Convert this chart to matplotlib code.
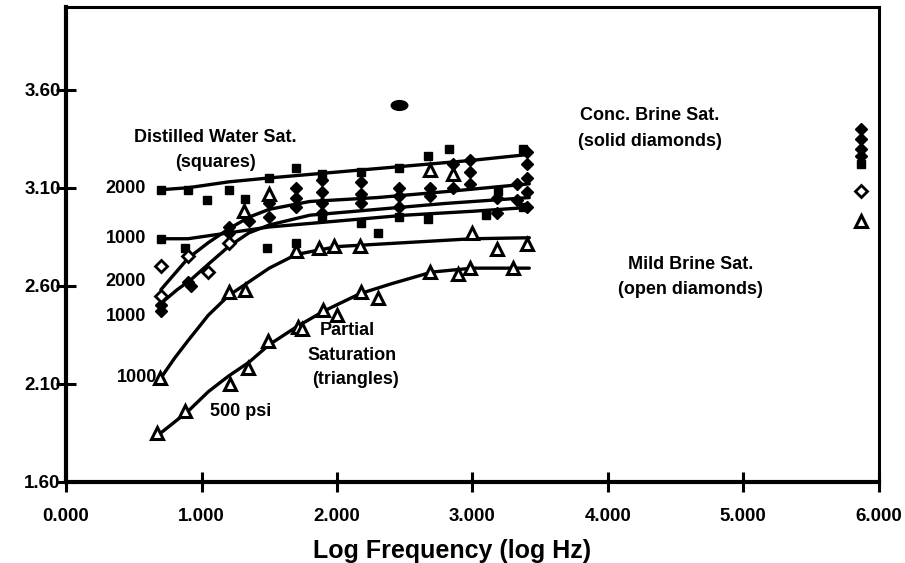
import matplotlib

matplotlib.use("Agg")
import matplotlib.pyplot as plt
from matplotlib.markers import MarkerStyle
from matplotlib.transforms import Affine2D

plt.rcParams["font.family"] = ["Liberation Sans", "DejaVu Sans"]

# fitted trend lines (log Hz, y value)
dist2000_x = [0.70, 0.90, 1.20, 1.50, 2.00, 2.50, 3.00, 3.42]
dist2000_y = [3.09, 3.10, 3.13, 3.15, 3.18, 3.21, 3.24, 3.27]
dist1000_x = [0.70, 0.90, 1.20, 1.50, 2.00, 2.50, 3.00, 3.42]
dist1000_y = [2.84, 2.84, 2.87, 2.90, 2.93, 2.96, 2.98, 3.00]
brine2000_x = [0.70, 0.80, 0.90, 1.05, 1.20, 1.35, 1.50, 1.80, 2.30, 2.80, 3.42]
brine2000_y = [2.58, 2.66, 2.74, 2.82, 2.89, 2.95, 2.99, 3.03, 3.05, 3.08, 3.12]
brine1000_x = [0.70, 0.82, 0.92, 1.05, 1.20, 1.35, 1.50, 1.80, 2.30, 2.80, 3.42]
brine1000_y = [2.51, 2.58, 2.63, 2.71, 2.80, 2.87, 2.91, 2.96, 2.99, 3.02, 3.05]
part1000_x = [0.70, 0.80, 0.90, 1.05, 1.20, 1.35, 1.50, 1.70, 2.00, 2.50, 3.00, 3.42]
part1000_y = [2.13, 2.23, 2.32, 2.45, 2.55, 2.62, 2.69, 2.76, 2.80, 2.82, 2.84, 2.845]
part500_x = [0.70, 0.90, 1.05, 1.20, 1.35, 1.50, 1.70, 1.90, 2.17, 2.40, 2.70, 3.00, 3.42]
part500_y = [1.85, 1.96, 2.06, 2.14, 2.21, 2.30, 2.39, 2.47, 2.56, 2.61, 2.67, 2.69, 2.69]

# measured points
sq_x = [0.70, 0.90, 1.04, 1.20, 1.32, 1.50, 1.70, 1.89, 2.18, 2.46, 2.67, 2.83, 3.19, 3.37,
        0.70, 0.88, 1.48, 1.70, 1.89, 2.18, 2.46, 2.67, 3.37, 2.30, 3.10, 5.87]
sq_y = [3.09, 3.09, 3.04, 3.09, 3.045, 3.15, 3.20, 3.17, 3.18, 3.20, 3.26, 3.30, 3.085, 3.30,
        2.84, 2.795, 2.795, 2.82, 2.95, 2.92, 2.95, 2.94, 3.00, 2.87, 2.96, 3.22]
sd_x = [0.70, 0.70, 0.90, 0.92, 1.20, 1.20, 1.35, 1.50, 1.50, 1.70, 1.70, 1.70, 1.89, 1.89,
        1.89, 1.89, 2.18, 2.18, 2.18, 2.46, 2.46, 2.46, 2.69, 2.69, 2.86, 2.86, 2.98, 2.98,
        2.98, 3.18, 3.18, 3.33, 3.33, 3.40, 3.40, 3.40, 3.40, 3.40, 5.87, 5.87, 5.87, 5.87]
sd_y = [2.47, 2.50, 2.62, 2.60, 2.87, 2.90, 2.93, 3.02, 2.95, 3.10, 3.05, 3.00, 3.14, 3.08,
        3.02, 2.97, 3.13, 3.07, 3.02, 3.10, 3.06, 3.00, 3.10, 3.06, 3.22, 3.10, 3.24, 3.18,
        3.12, 3.05, 2.97, 3.12, 3.04, 3.28, 3.22, 3.15, 3.08, 3.00, 3.40, 3.35, 3.30, 3.26]
od_x = [0.70, 0.70, 0.90, 1.05, 1.20, 5.87]
od_y = [2.70, 2.55, 2.75, 2.67, 2.82, 3.085]
tri_x = [0.69, 0.67, 0.88, 1.21, 1.34, 1.49, 1.71, 1.20, 1.32, 1.70, 1.87, 1.98, 2.17, 2.18,
         2.30, 1.90, 2.00, 1.74, 1.50, 1.31, 2.69, 2.86, 3.18, 3.40, 3.00, 2.69, 2.89, 2.98,
         3.30, 5.87]
tri_y = [2.13, 1.85, 1.96, 2.10, 2.18, 2.32, 2.39, 2.57, 2.58, 2.78, 2.795, 2.805, 2.805, 2.567,
         2.54, 2.475, 2.45, 2.38, 3.07, 2.98, 3.19, 3.17, 2.79, 2.815, 2.87, 2.67, 2.66, 2.69,
         2.69, 2.93]
outlier_x = [2.46]
outlier_y = [3.52]

fig = plt.figure(figsize=(9.05, 5.63), dpi=100)
ax = fig.add_axes([0.073, 0.144, 0.898, 0.843])

for xs, ys in [(dist2000_x, dist2000_y), (dist1000_x, dist1000_y),
               (brine2000_x, brine2000_y), (brine1000_x, brine1000_y),
               (part1000_x, part1000_y), (part500_x, part500_y)]:
    ax.plot(xs, ys, color="black", lw=2.4, solid_capstyle="round", zorder=2)

ax.plot(sq_x, sq_y, "s", color="black", ms=6, ls="none", zorder=3)
ax.plot(sd_x, sd_y, "D", color="black", ms=6, ls="none", zorder=3)
ax.plot(od_x, od_y, "D", mfc="white", mec="black", mew=2, ms=6, ls="none", zorder=3)
ax.plot(tri_x, tri_y, "^", mfc="white", mec="black", mew=2.2, ms=8, ls="none", zorder=4)
oval = MarkerStyle("o", transform=Affine2D().scale(1.7, 1.0))
ax.plot(outlier_x, outlier_y, marker=oval, color="black", ms=7, ls="none", zorder=3)

ax.set_xlim(0, 6)
ax.set_ylim(1.6, 4.02)
ax.set_xticks([0, 1, 2, 3, 4, 5, 6])
ax.set_xticklabels(["0.000", "1.000", "2.000", "3.000", "4.000", "5.000", "6.000"])
ax.set_yticks([1.60, 2.10, 2.60, 3.10, 3.60])
ax.set_yticklabels(["1.60", "2.10", "2.60", "3.10", "3.60"])
ax.tick_params(direction="inout", length=14, width=2.2, labelsize=13.5)
ax.tick_params(axis="x", pad=11.5)
ax.tick_params(axis="y", pad=-3)
for lab in ax.get_xticklabels() + ax.get_yticklabels():
    lab.set_fontweight("bold")
for side in ["left", "bottom"]:
    ax.spines[side].set_linewidth(3)
for side in ["top", "right"]:
    ax.spines[side].set_linewidth(2.2)

ax.set_xlabel("Log Frequency (log Hz)", fontsize=18, fontweight="bold", labelpad=10, x=0.475)

txt = dict(fontsize=13, fontweight="bold", ha="center", va="center")
ax.text(1.10, 3.355, "Distilled Water Sat.", **txt)
ax.text(1.10, 3.23, "(squares)", **txt)
ax.text(4.31, 3.47, "Conc. Brine Sat.", **txt)
ax.text(4.31, 3.335, "(solid diamonds)", **txt)
ax.text(4.61, 2.71, "Mild Brine Sat.", **txt)
ax.text(4.61, 2.58, "(open diamonds)", **txt)
ax.text(2.08, 2.37, "Partial", **txt)
ax.text(2.11, 2.245, "Saturation", **txt)
ax.text(2.14, 2.12, "(triangles)", **txt)
ax.text(1.29, 1.96, "500 psi", **txt)
lab = dict(fontsize=13, fontweight="bold", ha="right", va="center")
ax.text(0.59, 3.095, "2000", **lab)
ax.text(0.59, 2.84, "1000", **lab)
ax.text(0.59, 2.62, "2000", **lab)
ax.text(0.59, 2.445, "1000", **lab)
ax.text(0.67, 2.13, "1000", **lab)

fig.savefig("out.png", dpi=100)
